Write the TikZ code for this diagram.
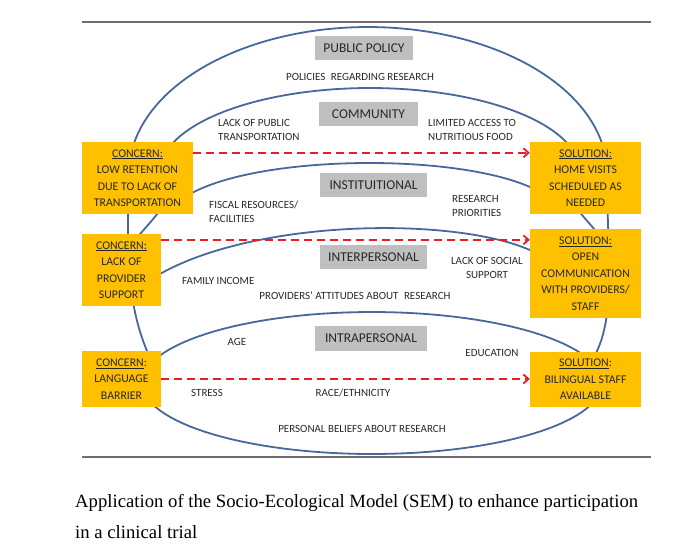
\documentclass[tikz,border=0pt]{standalone}
\usepackage{fontspec}
\setmainfont{Carlito}
\newfontfamily\capfont{Liberation Serif}
\usetikzlibrary{arrows.meta}
\definecolor{ybox}{RGB}{255,192,0}
\definecolor{gbox}{RGB}{191,191,191}
\definecolor{curveblue}{RGB}{70,104,155}
\definecolor{dred}{RGB}{235,28,36}
\definecolor{txt}{RGB}{40,40,40}
\definecolor{rulegray}{RGB}{110,110,110}
\begin{document}
\begin{tikzpicture}[x=1pt,y=-1pt,
  ybx/.style={fill=ybox, inner sep=0pt, align=center, text=txt, font=\fontsize{11.8}{16.5}\selectfont},
  gbx/.style={fill=gbox, inner sep=0pt, minimum height=24pt, text=txt, font=\fontsize{13.5}{16}\selectfont},
  lbl/.style={inner sep=0pt, text=txt, font=\fontsize{11}{14}\selectfont},
  sem/.style={draw=curveblue, line width=1.8pt},
  dasharrow/.style={draw=dred, line width=1.8pt, dash pattern=on 8pt off 5pt, -{Straight Barb[length=5pt,width=9pt]}},
  rulel/.style={draw=rulegray, line width=1.4pt},
  captext/.style={inner sep=0pt, anchor=base west, font=\capfont\fontsize{18.7}{22}\selectfont}
]
\useasboundingbox (0,0) rectangle (692,558);

% horizontal rules
\coordinate (r1a) at (82,22); \coordinate (r1b) at (651,22);
\coordinate (r2a) at (82,457); \coordinate (r2b) at (651,457);
\draw[rulel] (r1a) -- (r1b);
\draw[rulel] (r2a) -- (r2b);

% ecological curves
% public policy (outer)
\draw[sem] (158,385) -- (147,351) .. controls (126,300) and (127,250) .. (129,173)
  -- plot[domain=180:0, samples=80, variable=\t] ({368+239*cos(\t)}, {173-146*sin(\t)})
  .. controls (607,250) and (616,310) .. (597,351) -- (585,380);
% community
\draw[sem] plot[domain=180:0, samples=80, variable=\t] ({370+210*cos(\t)}, {172-84*sin(\t)});
\draw[sem] (168,196) .. controls (160,214) and (148,224) .. (128,248);
\draw[sem] (570,196) .. controls (578,214) and (590,222) .. (606,244);
% institutional
\draw[sem] (185,197) .. controls (255,152) and (480,152) .. (545,195);
% interpersonal
\draw[sem] (150,280) .. controls (250,215) and (480,215) .. (545,258);
% intrapersonal
\draw[sem] plot[domain=0:360, samples=120, variable=\t] ({372+230*cos(\t)}, {383-71*sin(\t)});

% concern boxes
\node[ybx, minimum width=111pt, minimum height=72pt] (c1) at (137.5,178) {\underline{CONCERN:}\\LOW RETENTION\\DUE TO LACK OF\\TRANSPORTATION};
\node[ybx, minimum width=79pt, minimum height=72pt] (c2) at (121.5,270) {\underline{CONCERN:}\\LACK OF\\PROVIDER\\SUPPORT};
\node[ybx, minimum width=79pt, minimum height=56pt] (c3) at (121.5,379) {\underline{CONCERN}:\\LANGUAGE\\BARRIER};
% solution boxes
\node[ybx, minimum width=111pt, minimum height=72pt] (s1) at (585.5,178) {\underline{SOLUTION:}\\HOME VISITS\\SCHEDULED AS\\NEEDED};
\node[ybx, minimum width=111pt, minimum height=89pt] (s2) at (585.5,273.5) {\underline{SOLUTION:}\\OPEN\\COMMUNICATION\\WITH PROVIDERS/\\STAFF};
\node[ybx, minimum width=111pt, minimum height=55pt] (s3) at (585.5,379.5) {\underline{SOLUTION}:\\BILINGUAL STAFF\\AVAILABLE};

% level labels
\node[gbx, minimum width=98pt] (pp) at (364,48) {PUBLIC POLICY};
\node[gbx, minimum width=99pt] (co) at (368.5,114) {COMMUNITY};
\node[gbx, minimum width=107pt] (in) at (373.5,185) {INSTITUITIONAL};
\node[gbx, minimum width=107pt] (ip) at (373.5,257) {INTERPERSONAL};
\node[gbx, minimum width=112pt, minimum height=25pt] (ia) at (371,338.5) {INTRAPERSONAL};

% factor labels
\node[lbl] (l1) at (360,77) {POLICIES\enspace REGARDING RESEARCH};
\node[lbl, anchor=west, align=left] (l2) at (218,130) {LACK OF PUBLIC\\TRANSPORTATION};
\node[lbl, anchor=west, align=left] (l3) at (428,130) {LIMITED ACCESS TO\\NUTRITIOUS FOOD};
\node[lbl, anchor=west, align=left] (l4) at (209,211.5) {FISCAL RESOURCES/\\FACILITIES};
\node[lbl, anchor=west, align=left] (l5) at (452,206) {RESEARCH\\PRIORITIES};
\node[lbl, align=center] (l6) at (487,268) {LACK OF SOCIAL\\SUPPORT};
\node[lbl, anchor=west] (l7) at (182,281) {FAMILY INCOME};
\node[lbl] (l8) at (355,296) {PROVIDERS' ATTITUDES ABOUT\enspace RESEARCH};
\node[lbl] (l9) at (237,342) {AGE};
\node[lbl] (l10) at (492,353) {EDUCATION};
\node[lbl] (l11) at (207,393) {STRESS};
\node[lbl] (l12) at (353,393) {RACE/ETHNICITY};
\node[lbl] (l13) at (362,429) {PERSONAL BELIEFS ABOUT RESEARCH};

% dashed arrows
\coordinate (a1) at ([yshift=-11pt]c1.north east);
\coordinate (a2) at ([yshift=-6pt]c2.north east);
\draw[dasharrow] (a1) -- (a1 -| s1.west);
\draw[dasharrow] (a2) -- (a2 -| s2.west);
\draw[dasharrow] (c3.east) -- (c3.east -| s3.west);

% caption
\node[captext] (cap1) at (75,507) {Application of the Socio-Ecological Model (SEM) to enhance participation};
\node[captext] (cap2) at (75,538) {in a clinical trial};
\end{tikzpicture}
\end{document}
